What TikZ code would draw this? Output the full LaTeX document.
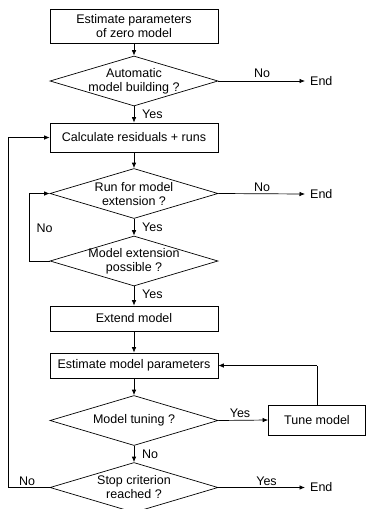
\documentclass[tikz,border=0pt]{standalone}
\usepackage{fontspec}
\setmainfont{Liberation Sans}
\usetikzlibrary{shapes.geometric,arrows.meta}
\begin{document}
\begin{tikzpicture}[x=1pt,y=-1pt,
  every node/.style={font=\fontsize{12.5}{14}\selectfont},
  procbox/.style={draw,line width=0.7pt,minimum width=168pt,inner sep=0pt,align=center},
  decision/.style={draw,line width=0.7pt,diamond,inner sep=0pt,minimum width=168pt,minimum height=50pt},
  dtext/.style={align=center,inner sep=0pt},
  lbl/.style={inner sep=0pt},
  endnode/.style={inner xsep=5pt,inner ysep=0pt,anchor=west},
  conn/.style={line width=0.7pt,-{Latex[length=5.5pt,width=4.5pt]}},
  plain/.style={line width=0.7pt}
]
\clip (0,0) rectangle (366,509);
\useasboundingbox (0,0) rectangle (366,509);

\node[procbox,minimum height=34pt] (b1) at (134,26) {Estimate parameters\\of zero model};
\node[decision] (d1) at (134,81) {};
\node[dtext] (t1) at (134,81.5) {Automatic\\model building ?};
\node[procbox,minimum height=29pt] (b2) at (134,137.5) {Calculate residuals + runs};
\node[decision] (d2) at (134,193.5) {};
\node[dtext] (t2) at (134,194) {Run for model\\extension ?};
\node[decision] (d3) at (134,261) {};
\node[dtext] (t3) at (134,261) {Model extension\\possible ?};
\node[procbox,minimum height=25pt] (b3) at (134,318.5) {Extend model};
\node[procbox,minimum height=25pt] (b4) at (134,365.5) {Estimate model parameters};
\node[decision] (d4) at (134,420.5) {};
\node[dtext] (t4) at (134,420.5) {Model tuning ?};
\node[draw,line width=0.7pt,minimum width=97pt,minimum height=30pt,inner sep=0pt] (tune) at (317,420) {Tune model};
\node[decision] (d5) at (134,487.5) {};
\node[dtext] (t5) at (134,487.5) {Stop criterion\\reached ?};

\node[endnode] (e1) at (305,81) {End};
\node[endnode] (e2) at (305,194) {End};
\node[endnode] (e3) at (305,487.5) {End};

\coordinate (c3) at (29,261);
\coordinate (c5) at (8,487.5);
\coordinate (ct) at (tune.north |- b4.east);

\draw[conn] (b1) -- (d1);
\draw[conn] (d1.east) -- (e1.west);
\draw[conn] (d1) -- (b2);
\draw[conn] (b2) -- (d2);
\draw[conn] (d2.east) -- (e2.west);
\draw[conn] (d2) -- (d3);
\draw[plain] (d3.west) -- (c3);
\draw[conn] (c3) |- (d2.west);
\draw[conn] (d3) -- (b3);
\draw[conn] (b3) -- (b4);
\draw[conn] (b4) -- (d4);
\draw[conn] (d4.east) -- (tune.west);
\draw[plain] (tune.north) -- (ct);
\draw[conn] (ct) -- (b4.east);
\draw[conn] (d4) -- (d5);
\draw[conn] (d5.east) -- (e3.west);
\draw[plain] (d5.west) -- (c5);
\draw[conn] (c5) |- (b2.west);

\node[lbl] (l1) at (262,73) {No};
\node[lbl,anchor=west] (l2) at (142,114.5) {Yes};
\node[lbl] (l3) at (262,187) {No};
\node[lbl,anchor=west] (l4) at (142,227.5) {Yes};
\node[lbl] (l5) at (44.5,228) {No};
\node[lbl,anchor=west] (l6) at (142,294.5) {Yes};
\node[lbl] (l7) at (240,413) {Yes};
\node[lbl,anchor=west] (l8) at (142,454) {No};
\node[lbl] (l9) at (27,481) {No};
\node[lbl] (l10) at (266.5,481) {Yes};
\end{tikzpicture}
\end{document}
